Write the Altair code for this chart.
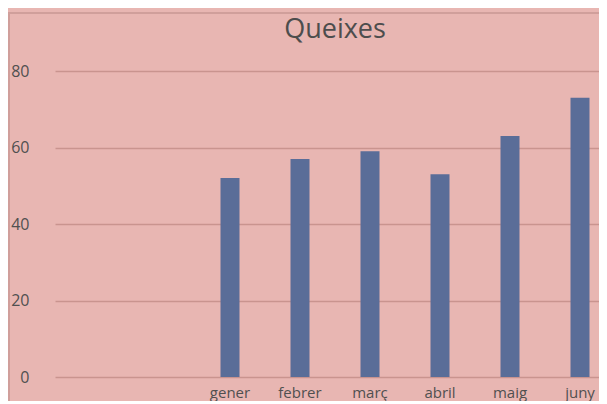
import altair as alt
import pandas as pd

months = ["gener", "febrer", "març", "abril", "maig", "juny"]
values = [52, 57, 59, 53, 63, 73]
blank_slots = ["_a", "_b"]
y_ticks = [0, 20, 40, 60, 80]
title_text = "Queixes"

df = pd.DataFrame({"mes": months, "queixes": values})
domain = blank_slots + months

BG = "#e8b6b2"
GRID = "#c9948f"

PW, PH = 544, 306

x_enc = alt.X(
    "mes:N",
    sort=domain,
    scale=alt.Scale(domain=domain, range=[0, 560], paddingInner=0, paddingOuter=0),
    axis=alt.Axis(
        title=None, ticks=False, domain=False, labelAngle=0,
        labelExpr="indexof(['_a','_b'], datum.value) >= 0 ? '' : datum.value",
        labelFont="Open Sans", labelFontSize=15, labelColor="#505050",
        labelPadding=8,
    ),
)
y_enc = alt.Y(
    "queixes:Q",
    scale=alt.Scale(domain=[0, 80], nice=False),
    axis=alt.Axis(
        title=None, values=y_ticks, ticks=False, domain=False,
        grid=True, gridColor=GRID, gridWidth=1.5,
        labelFont="Open Sans", labelFontSize=16, labelColor="#505050",
        labelPadding=26,
    ),
)

bars = alt.Chart(df).mark_bar(size=19, color="#5a6d98").encode(x=x_enc, y=y_enc)

frame_top = alt.Chart(df).mark_rule(color="#d09f9b", strokeWidth=2).encode(
    x=alt.value(-47), x2=alt.value(PW), y=alt.value(-58)
)
frame_left = alt.Chart(df).mark_rule(color="#d09f9b", strokeWidth=2).encode(
    x=alt.value(-46), y=alt.value(-58), y2=alt.value(PH + 24)
)

title = alt.Chart(pd.DataFrame({"t": [title_text]})).mark_text(
    font="Open Sans", fontSize=27, color="#4d4d4d", align="center", baseline="middle"
).encode(text="t:N", x=alt.value(280), y=alt.value(-41))

chart = (
    alt.layer(frame_top, frame_left, bars, title)
    .properties(
        width=PW, height=PH,
        autosize=alt.AutoSizeParams(type="none"),
        padding={"left": 47, "top": 63, "right": 0, "bottom": 24},
        background=BG,
    )
    .configure_view(stroke=None)
)

chart.save("out.html", embed_options={"renderer": "svg", "actions": False})
